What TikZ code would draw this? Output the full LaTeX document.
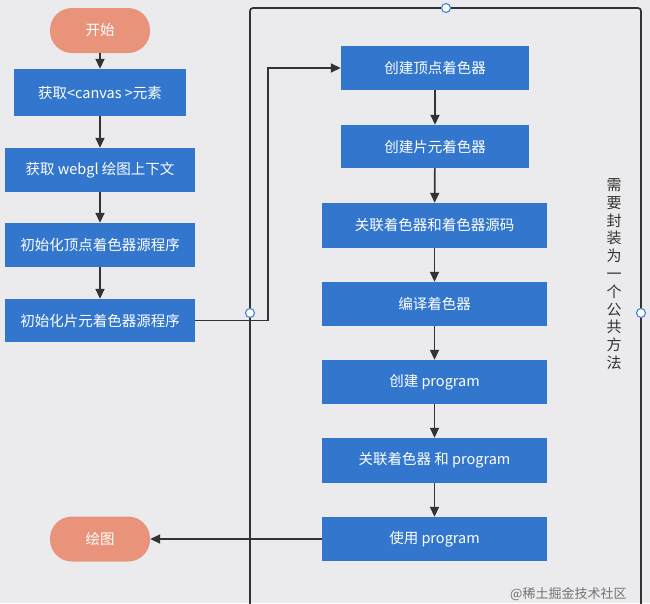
\documentclass[tikz,border=0pt]{standalone}
\usepackage{fontspec}
\setmainfont{Noto Sans CJK SC}
\usetikzlibrary{arrows.meta}
\definecolor{bg}{RGB}{235,235,237}
\definecolor{boxblue}{RGB}{50,118,206}
\definecolor{pillc}{RGB}{233,148,122}
\definecolor{linec}{RGB}{51,51,51}
\definecolor{portblue}{RGB}{60,130,220}
\begin{document}
\begin{tikzpicture}[x=1pt,y=-1pt,
  box/.style={fill=boxblue, text=white, inner sep=0pt, font=\fontsize{14.5}{17}\selectfont},
  pill/.style={fill=pillc, text=white, rounded corners=22pt, minimum width=100pt, minimum height=45pt, inner sep=0pt, font=\fontsize{14.5}{17}\selectfont},
  conn/.style={draw=linec, line width=1.7pt, -{Triangle[length=10pt,width=9pt]}},
  panel/.style={draw=linec, line width=1.7pt, rounded corners=3pt},
  port/.style={circle, draw=portblue, fill=white, line width=1.1pt, minimum size=9pt, inner sep=0pt}]
\useasboundingbox[fill=bg] (0,0) rectangle (650,603);
% panel
\coordinate (pbl) at (250,615);
\coordinate (ptl) at (250,8);
\coordinate (ptr) at (641,8);
\coordinate (pbr) at (641,615);
\draw[panel] (pbl) -- (ptl) -- (ptr) -- (pbr);
% left column
\node[pill] (start) at (100,30.5) {开始};
\node[box, minimum width=172pt, minimum height=47pt] (n1) at (100,92.5) {获取<canvas >元素};
\node[box, minimum width=190pt, minimum height=44pt] (n2) at (100,170) {获取 webgl 绘图上下文};
\node[box, minimum width=190pt, minimum height=44pt] (n3) at (100,245) {初始化顶点着色器源程序};
\node[box, minimum width=190pt, minimum height=43pt] (n4) at (100,320.5) {初始化片元着色器源程序};
\node[pill] (draw) at (100,539) {绘图};
% right column
\node[box, minimum width=188pt, minimum height=44pt] (r1) at (435,68) {创建顶点着色器};
\node[box, minimum width=188pt, minimum height=43pt] (r2) at (435,146.5) {创建片元着色器};
\node[box, minimum width=225pt, minimum height=45pt] (r3) at (434.5,225.5) {关联着色器和着色器源码};
\node[box, minimum width=225pt, minimum height=44pt] (r4) at (434.5,304) {编译着色器};
\node[box, minimum width=225pt, minimum height=44pt] (r5) at (434.5,382) {创建 program};
\node[box, minimum width=225pt, minimum height=45pt] (r6) at (434.5,460.5) {关联着色器 和 program};
\node[box, minimum width=225pt, minimum height=44pt] (r7) at (434.5,539) {使用 program};
% connectors
\draw[conn] (start) -- (n1);
\draw[conn] (n1) -- (n2);
\draw[conn] (n2) -- (n3);
\draw[conn] (n3) -- (n4);
\coordinate (bx) at (268,0);
\draw[conn] (n4.east) -- (n4.east -| bx) |- (r1.west);
\draw[conn] (r1) -- (r2);
\draw[conn] (r2) -- (r3);
\draw[conn] (r3) -- (r4);
\draw[conn] (r4) -- (r5);
\draw[conn] (r5) -- (r6);
\draw[conn] (r6) -- (r7);
\draw[conn] (r7.west) -- (draw.east);
% ports
\node[port] (p1) at (446,8) {};
\node[port] (p2) at (250,313) {};
\node[port] (p3) at (641,313) {};
% vertical label
\node[text=linec, align=center, font=\fontsize{15}{17.8}\selectfont] (vlabel) at (614,274)
  {需\\要\\封\\装\\为\\一\\个\\公\\共\\方\\法};
% watermark
\node[text=black!55, font=\fontsize{13}{15}\selectfont, anchor=west, inner sep=0pt] (wm) at (510,594) {@稀土掘金技术社区};
\end{tikzpicture}
\end{document}
